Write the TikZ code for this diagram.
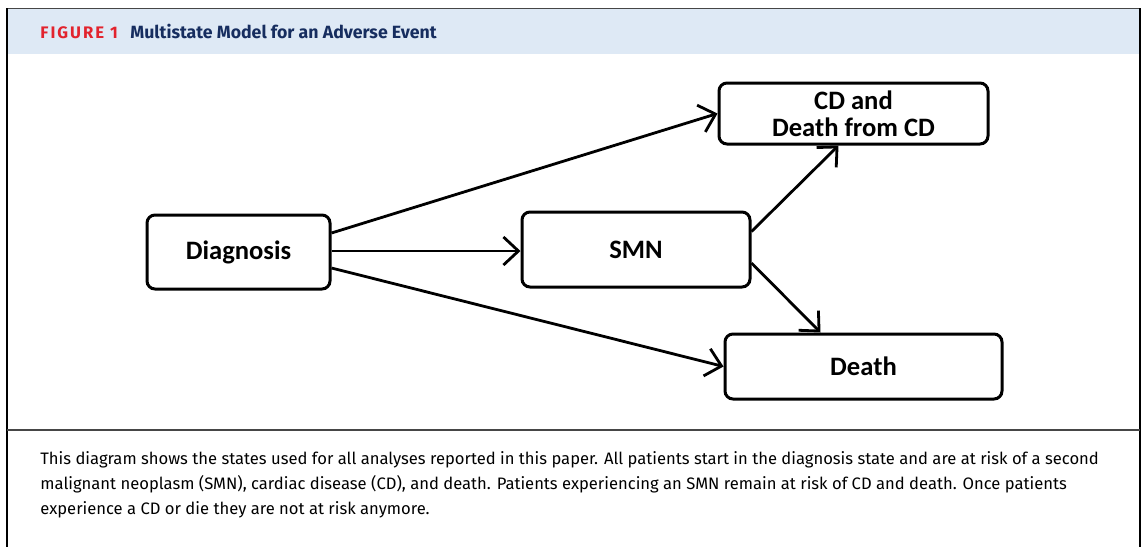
\documentclass[tikz,border=0pt]{standalone}
\usepackage{fontspec}
\setmainfont{Fira Sans}
\newfontfamily\boxfont{Carlito}
\usetikzlibrary{positioning, arrows.meta, calc}
\definecolor{HeadFill}{RGB}{222,233,245}
\definecolor{FigRed}{RGB}{226,35,45}
\definecolor{TitleNavy}{RGB}{22,45,95}
\definecolor{RuleGrey}{RGB}{70,70,70}
\tikzstyle{state} = [draw, line width=1.5pt, rounded corners=4pt, inner sep=0pt, align=center, font=\boxfont\bfseries\fontsize{13.3}{13.5}\selectfont]
\tikzstyle{arrow} = [line width=1.4pt, -{Straight Barb[length=7.5pt,width=14pt,line width=1.4pt]}]

\begin{document}
\begin{tikzpicture}[x=0.5pt, y=-0.5pt]
    \useasboundingbox (0,0) rectangle (1142,547);
    % Frame, header and caption rule
    \fill[HeadFill] (8,9) rectangle (1139,54);
    \draw[RuleGrey, line width=0.8pt] (7,8.5) -- (1140,8.5);
    \draw[black, line width=1pt] (7,8) -- (7,547);
    \draw[black, line width=1pt] (1140,8) -- (1140,547);
    \draw[RuleGrey, line width=0.8pt] (7,430) -- (1140,430);
    \node[anchor=base west, inner sep=0pt, text=FigRed, font=\bfseries\fontsize{8.35}{9}\addfontfeatures{LetterSpace=12}\selectfont] (figlabel) at (40,38) {FIGURE 1};
    \node[anchor=base west, inner sep=0pt, text=TitleNavy, font=\bfseries\fontsize{8.85}{9}\selectfont] (title) at (130,38) {Multistate Model for an Adverse Event};

    % States of the model
    \node[state, minimum width=91.5pt, minimum height=37pt] (diag) at (238.5,252) {Diagnosis};
    \node[state, minimum width=114pt, minimum height=37.5pt] (smn) at (636,249.5) {SMN};
    \node[state, minimum width=134.5pt, minimum height=30.5pt] (cd) at (853.5,113.5) {CD and\\Death from CD};
    \node[state, minimum width=138.5pt, minimum height=32.5pt] (death) at (863.5,366.5) {Death};

    % Transitions
    \draw[arrow] ($(diag.east)+(0,-19)$) -- (cd.west);
    \draw[arrow] ($(diag.east)+(0,-1)$) -- ($(smn.west)+(0,1.5)$);
    \draw[arrow] ($(diag.east)+(0,16)$) -- (death.west);
    \draw[arrow] ($(smn.east)+(0,-18)$) -- ($(cd.south)+(-15,0)$);
    \draw[arrow] ($(smn.east)+(0,13.5)$) -- ($(death.north)+(-43,0)$);

    % Caption
    \node[anchor=north west, inner sep=0pt, align=left, font=\fontsize{8.3}{12.5}\selectfont] (caption) at (40,451) {This diagram shows the states used for all analyses reported in this paper. All patients start in the diagnosis state and are at risk of a second\\malignant neoplasm (SMN), cardiac disease (CD), and death. Patients experiencing an SMN remain at risk of CD and death. Once patients\\experience a CD or die they are not at risk anymore.};
\end{tikzpicture}
\end{document}
